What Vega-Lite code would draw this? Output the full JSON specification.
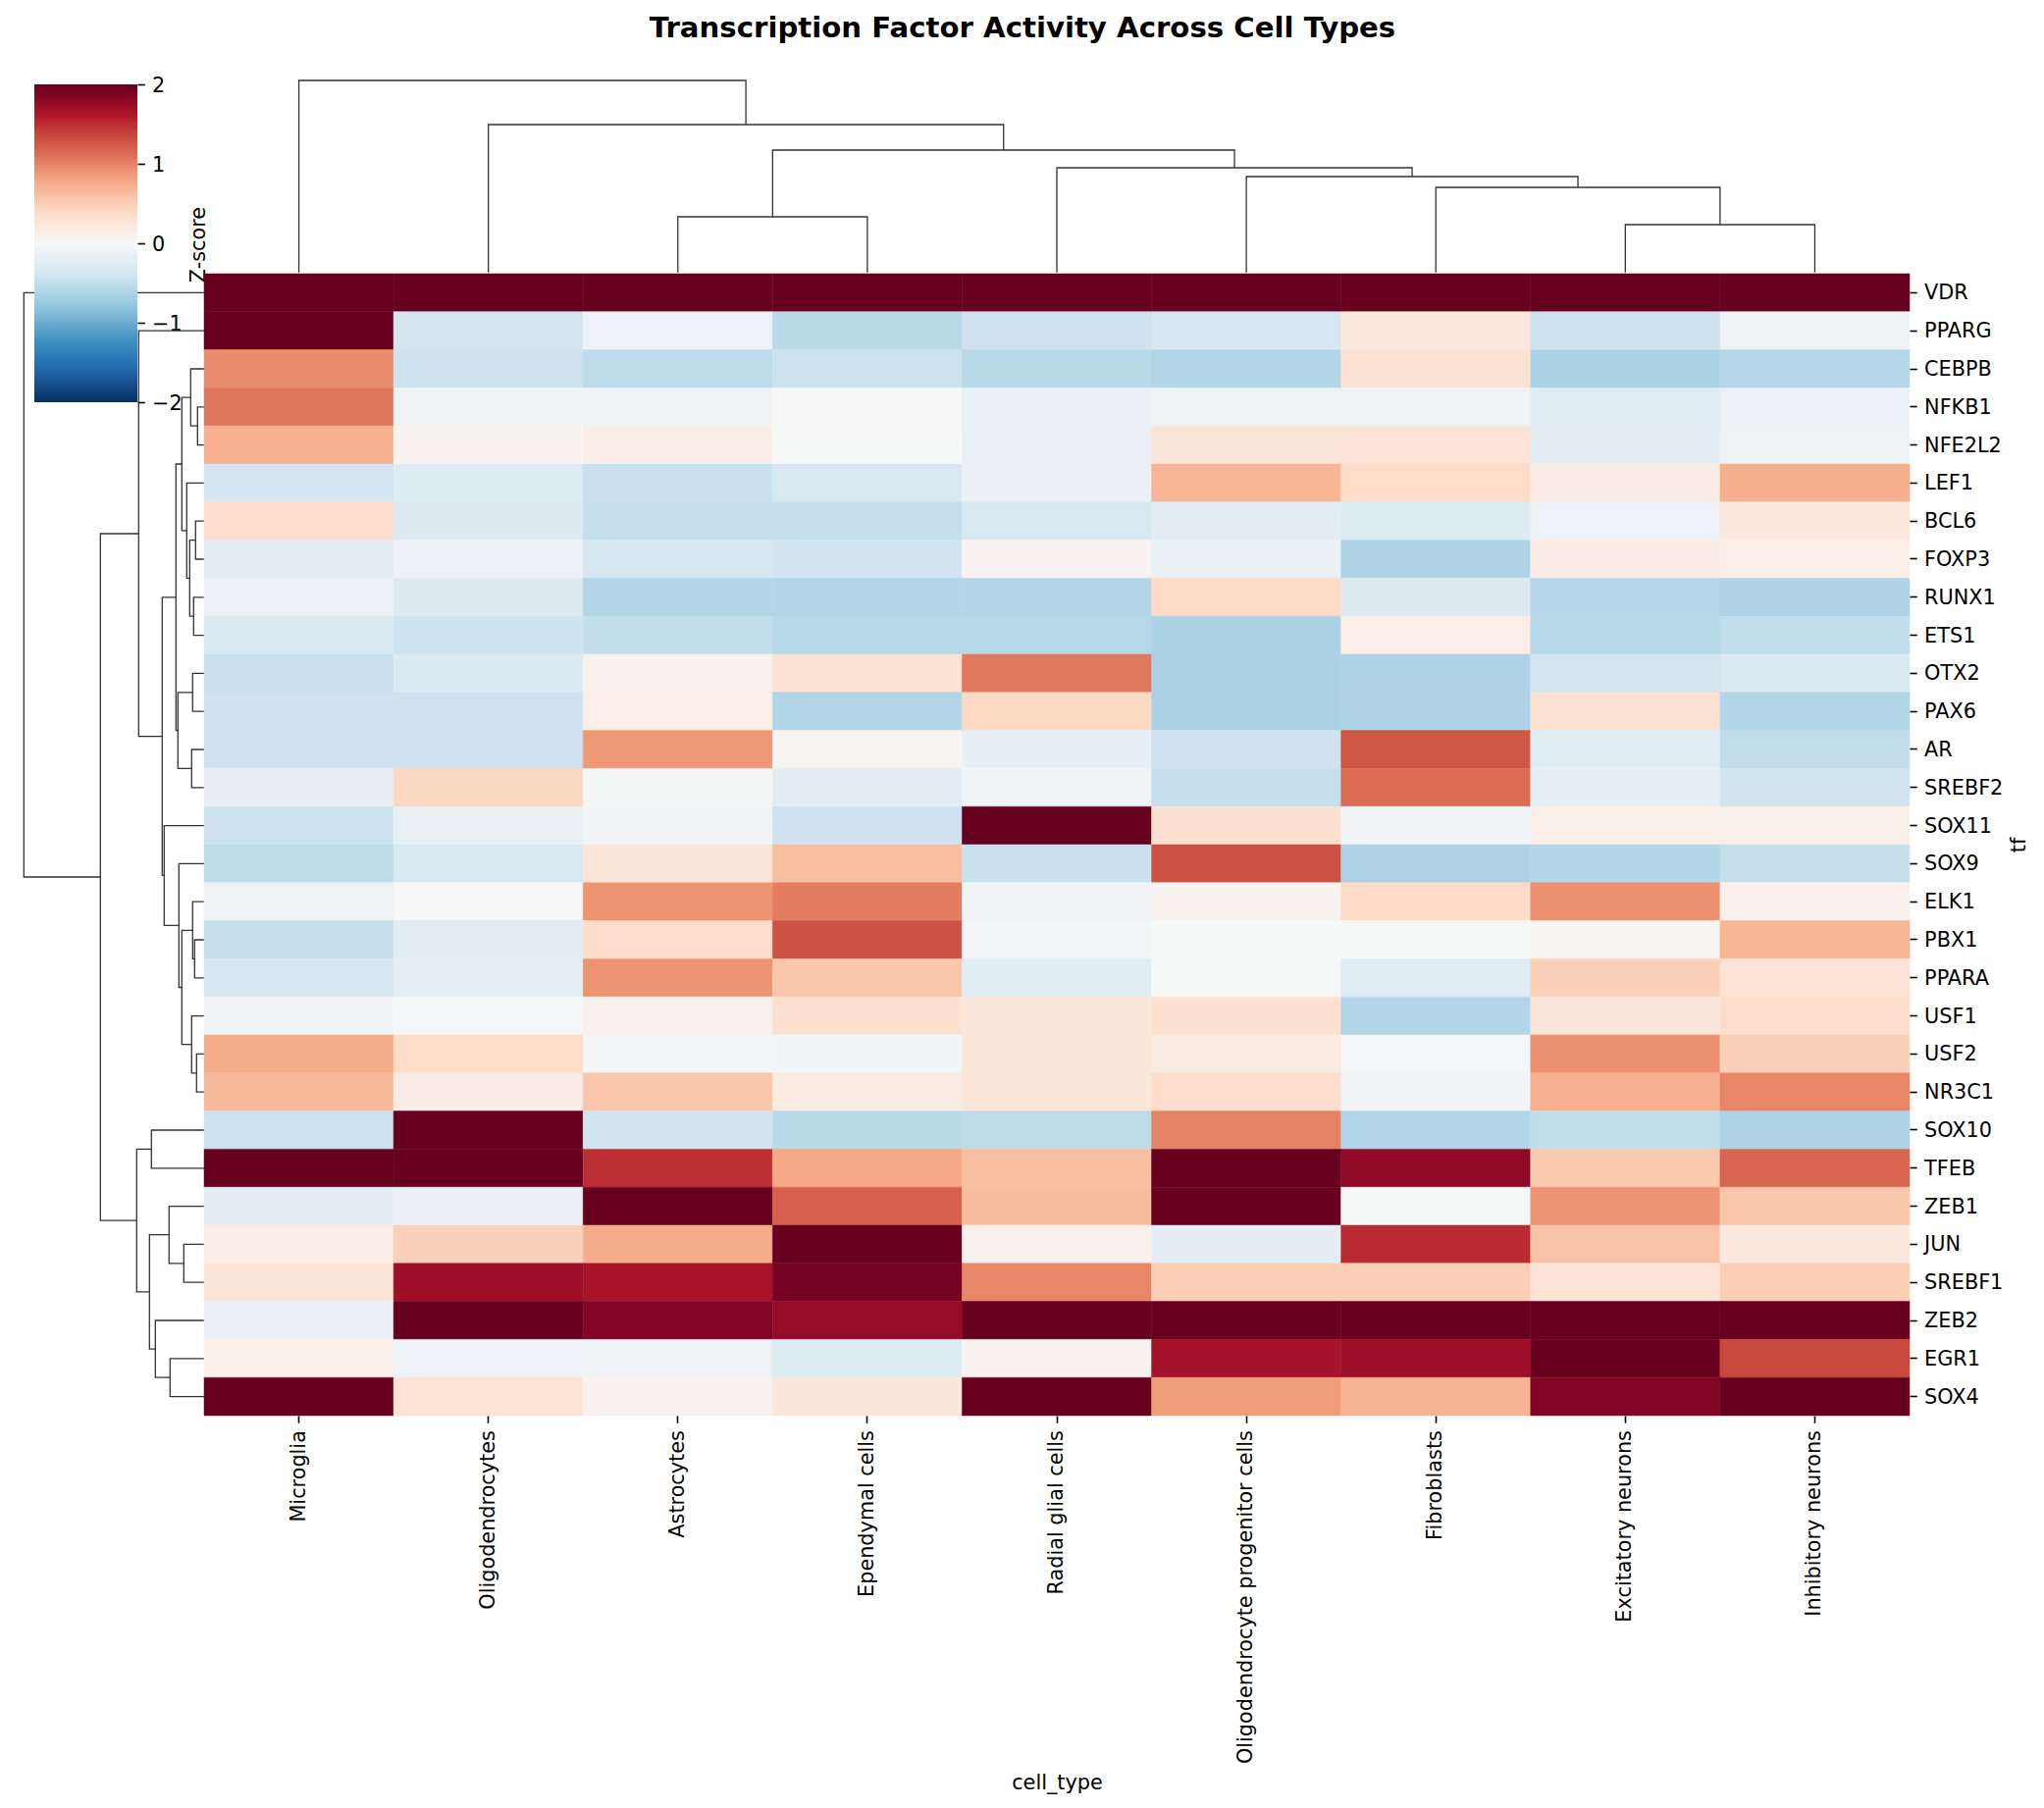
{
  "$schema": "https://vega.github.io/schema/vega-lite/v6.json",
  "autosize": {"type": "none"},
  "padding": {"left": 208, "top": 279, "right": 137, "bottom": 400},
  "width": 1738,
  "height": 1164,
  "background": "white",
  "title": {
    "text": "Transcription Factor Activity Across Cell Types",
    "anchor": "middle",
    "frame": "group",
    "dx": -35,
    "offset": 32,
    "font": "DejaVu Sans",
    "fontSize": 29.2,
    "fontWeight": "bold",
    "color": "black"
  },
  "config": {
    "view": {"stroke": null},
    "axis": {
      "labelFont": "DejaVu Sans",
      "titleFont": "DejaVu Sans",
      "labelFontSize": 20.8,
      "titleFontSize": 20.8,
      "titleFontWeight": "normal",
      "labelColor": "black",
      "titleColor": "black",
      "tickColor": "black",
      "tickWidth": 1.6,
      "tickSize": 7.3,
      "labelPadding": 7.3,
      "labelLimit": 0,
      "domain": false,
      "grid": false
    }
  },
  "datasets": {
    "col_tree": [
      {"link": "c1", "step": 1, "pos": 7.5, "height": 0}, {"link": "c1", "step": 2, "pos": 7.5, "height": 48.7}, {"link": "c1", "step": 3, "pos": 8.5, "height": 48.7}, {"link": "c1", "step": 4, "pos": 8.5, "height": 0},
      {"link": "c2", "step": 1, "pos": 6.5, "height": 0}, {"link": "c2", "step": 2, "pos": 6.5, "height": 86.7}, {"link": "c2", "step": 3, "pos": 8, "height": 86.7}, {"link": "c2", "step": 4, "pos": 8, "height": 48.7},
      {"link": "c3", "step": 1, "pos": 5.5, "height": 0}, {"link": "c3", "step": 2, "pos": 5.5, "height": 97.7}, {"link": "c3", "step": 3, "pos": 7.25, "height": 97.7}, {"link": "c3", "step": 4, "pos": 7.25, "height": 86.7},
      {"link": "c4", "step": 1, "pos": 4.5, "height": 0}, {"link": "c4", "step": 2, "pos": 4.5, "height": 106.7}, {"link": "c4", "step": 3, "pos": 6.375, "height": 106.7}, {"link": "c4", "step": 4, "pos": 6.375, "height": 97.7},
      {"link": "c5", "step": 1, "pos": 2.5, "height": 0}, {"link": "c5", "step": 2, "pos": 2.5, "height": 56.7}, {"link": "c5", "step": 3, "pos": 3.5, "height": 56.7}, {"link": "c5", "step": 4, "pos": 3.5, "height": 0},
      {"link": "c6", "step": 1, "pos": 3, "height": 56.7}, {"link": "c6", "step": 2, "pos": 3, "height": 124.7}, {"link": "c6", "step": 3, "pos": 5.4375, "height": 124.7}, {"link": "c6", "step": 4, "pos": 5.4375, "height": 106.7},
      {"link": "c7", "step": 1, "pos": 1.5, "height": 0}, {"link": "c7", "step": 2, "pos": 1.5, "height": 150.7}, {"link": "c7", "step": 3, "pos": 4.219, "height": 150.7}, {"link": "c7", "step": 4, "pos": 4.219, "height": 124.7},
      {"link": "c8", "step": 1, "pos": 0.5, "height": 0}, {"link": "c8", "step": 2, "pos": 0.5, "height": 195.7}, {"link": "c8", "step": 3, "pos": 2.859, "height": 195.7}, {"link": "c8", "step": 4, "pos": 2.859, "height": 150.7}
    ],
    "row_tree": [
      {"link": "R0", "step": 1, "pos": 0.5, "dist": 0}, {"link": "R0", "step": 2, "pos": 0.5, "dist": 183.7}, {"link": "R0", "step": 3, "pos": 15.85, "dist": 183.7}, {"link": "R0", "step": 4, "pos": 15.85, "dist": 105.7},
      {"link": "A", "step": 1, "pos": 6.83, "dist": 66.7}, {"link": "A", "step": 2, "pos": 6.83, "dist": 105.7}, {"link": "A", "step": 3, "pos": 24.875, "dist": 105.7}, {"link": "A", "step": 4, "pos": 24.875, "dist": 68.7},
      {"link": "B", "step": 1, "pos": 1.5, "dist": 0}, {"link": "B", "step": 2, "pos": 1.5, "dist": 66.7}, {"link": "B", "step": 3, "pos": 12.155, "dist": 66.7}, {"link": "B", "step": 4, "pos": 12.155, "dist": 42.7},
      {"link": "C", "step": 1, "pos": 8.5, "dist": 28.7}, {"link": "C", "step": 2, "pos": 8.5, "dist": 42.7}, {"link": "C", "step": 3, "pos": 15.81, "dist": 42.7}, {"link": "C", "step": 4, "pos": 15.81, "dist": 40.7},
      {"link": "D", "step": 1, "pos": 5, "dist": 22.7}, {"link": "D", "step": 2, "pos": 5, "dist": 28.7}, {"link": "D", "step": 3, "pos": 12, "dist": 28.7}, {"link": "D", "step": 4, "pos": 12, "dist": 26.7},
      {"link": "E", "step": 1, "pos": 3.25, "dist": 13.7}, {"link": "E", "step": 2, "pos": 3.25, "dist": 22.7}, {"link": "E", "step": 3, "pos": 6.75, "dist": 22.7}, {"link": "E", "step": 4, "pos": 6.75, "dist": 17.7},
      {"link": "F", "step": 1, "pos": 2.5, "dist": 0}, {"link": "F", "step": 2, "pos": 2.5, "dist": 13.7}, {"link": "F", "step": 3, "pos": 4, "dist": 13.7}, {"link": "F", "step": 4, "pos": 4, "dist": 6.7},
      {"link": "G", "step": 1, "pos": 3.5, "dist": 0}, {"link": "G", "step": 2, "pos": 3.5, "dist": 6.7}, {"link": "G", "step": 3, "pos": 4.5, "dist": 6.7}, {"link": "G", "step": 4, "pos": 4.5, "dist": 0},
      {"link": "H", "step": 1, "pos": 5.5, "dist": 0}, {"link": "H", "step": 2, "pos": 5.5, "dist": 17.7}, {"link": "H", "step": 3, "pos": 8, "dist": 17.7}, {"link": "H", "step": 4, "pos": 8, "dist": 14.7},
      {"link": "I", "step": 1, "pos": 7, "dist": 8.7}, {"link": "I", "step": 2, "pos": 7, "dist": 14.7}, {"link": "I", "step": 3, "pos": 9, "dist": 14.7}, {"link": "I", "step": 4, "pos": 9, "dist": 10.7},
      {"link": "J", "step": 1, "pos": 6.5, "dist": 0}, {"link": "J", "step": 2, "pos": 6.5, "dist": 8.7}, {"link": "J", "step": 3, "pos": 7.5, "dist": 8.7}, {"link": "J", "step": 4, "pos": 7.5, "dist": 0},
      {"link": "K", "step": 1, "pos": 8.5, "dist": 0}, {"link": "K", "step": 2, "pos": 8.5, "dist": 10.7}, {"link": "K", "step": 3, "pos": 9.5, "dist": 10.7}, {"link": "K", "step": 4, "pos": 9.5, "dist": 0},
      {"link": "L", "step": 1, "pos": 11, "dist": 11.7}, {"link": "L", "step": 2, "pos": 11, "dist": 26.7}, {"link": "L", "step": 3, "pos": 13, "dist": 26.7}, {"link": "L", "step": 4, "pos": 13, "dist": 12.7},
      {"link": "M", "step": 1, "pos": 10.5, "dist": 0}, {"link": "M", "step": 2, "pos": 10.5, "dist": 11.7}, {"link": "M", "step": 3, "pos": 11.5, "dist": 11.7}, {"link": "M", "step": 4, "pos": 11.5, "dist": 0},
      {"link": "N", "step": 1, "pos": 12.5, "dist": 0}, {"link": "N", "step": 2, "pos": 12.5, "dist": 12.7}, {"link": "N", "step": 3, "pos": 13.5, "dist": 12.7}, {"link": "N", "step": 4, "pos": 13.5, "dist": 0},
      {"link": "O", "step": 1, "pos": 14.5, "dist": 0}, {"link": "O", "step": 2, "pos": 14.5, "dist": 40.7}, {"link": "O", "step": 3, "pos": 17.125, "dist": 40.7}, {"link": "O", "step": 4, "pos": 17.125, "dist": 25.7},
      {"link": "P", "step": 1, "pos": 15.5, "dist": 0}, {"link": "P", "step": 2, "pos": 15.5, "dist": 25.7}, {"link": "P", "step": 3, "pos": 18.75, "dist": 25.7}, {"link": "P", "step": 4, "pos": 18.75, "dist": 22.7},
      {"link": "Q", "step": 1, "pos": 17.25, "dist": 11.7}, {"link": "Q", "step": 2, "pos": 17.25, "dist": 22.7}, {"link": "Q", "step": 3, "pos": 20.25, "dist": 22.7}, {"link": "Q", "step": 4, "pos": 20.25, "dist": 12.7},
      {"link": "R", "step": 1, "pos": 16.5, "dist": 0}, {"link": "R", "step": 2, "pos": 16.5, "dist": 11.7}, {"link": "R", "step": 3, "pos": 18, "dist": 11.7}, {"link": "R", "step": 4, "pos": 18, "dist": 9.7},
      {"link": "S", "step": 1, "pos": 17.5, "dist": 0}, {"link": "S", "step": 2, "pos": 17.5, "dist": 9.7}, {"link": "S", "step": 3, "pos": 18.5, "dist": 9.7}, {"link": "S", "step": 4, "pos": 18.5, "dist": 0},
      {"link": "T", "step": 1, "pos": 19.5, "dist": 0}, {"link": "T", "step": 2, "pos": 19.5, "dist": 12.7}, {"link": "T", "step": 3, "pos": 21, "dist": 12.7}, {"link": "T", "step": 4, "pos": 21, "dist": 7.7},
      {"link": "U", "step": 1, "pos": 20.5, "dist": 0}, {"link": "U", "step": 2, "pos": 20.5, "dist": 7.7}, {"link": "U", "step": 3, "pos": 21.5, "dist": 7.7}, {"link": "U", "step": 4, "pos": 21.5, "dist": 0},
      {"link": "V", "step": 1, "pos": 23, "dist": 53.7}, {"link": "V", "step": 2, "pos": 23, "dist": 68.7}, {"link": "V", "step": 3, "pos": 26.75, "dist": 68.7}, {"link": "V", "step": 4, "pos": 26.75, "dist": 55.7},
      {"link": "W", "step": 1, "pos": 22.5, "dist": 0}, {"link": "W", "step": 2, "pos": 22.5, "dist": 53.7}, {"link": "W", "step": 3, "pos": 23.5, "dist": 53.7}, {"link": "W", "step": 4, "pos": 23.5, "dist": 0},
      {"link": "X", "step": 1, "pos": 25.25, "dist": 35.7}, {"link": "X", "step": 2, "pos": 25.25, "dist": 55.7}, {"link": "X", "step": 3, "pos": 28.25, "dist": 55.7}, {"link": "X", "step": 4, "pos": 28.25, "dist": 49.7},
      {"link": "Y", "step": 1, "pos": 24.5, "dist": 0}, {"link": "Y", "step": 2, "pos": 24.5, "dist": 35.7}, {"link": "Y", "step": 3, "pos": 26, "dist": 35.7}, {"link": "Y", "step": 4, "pos": 26, "dist": 20.7},
      {"link": "Z", "step": 1, "pos": 25.5, "dist": 0}, {"link": "Z", "step": 2, "pos": 25.5, "dist": 20.7}, {"link": "Z", "step": 3, "pos": 26.5, "dist": 20.7}, {"link": "Z", "step": 4, "pos": 26.5, "dist": 0},
      {"link": "AA", "step": 1, "pos": 27.5, "dist": 0}, {"link": "AA", "step": 2, "pos": 27.5, "dist": 49.7}, {"link": "AA", "step": 3, "pos": 29, "dist": 49.7}, {"link": "AA", "step": 4, "pos": 29, "dist": 34.7},
      {"link": "AB", "step": 1, "pos": 28.5, "dist": 0}, {"link": "AB", "step": 2, "pos": 28.5, "dist": 34.7}, {"link": "AB", "step": 3, "pos": 29.5, "dist": 34.7}, {"link": "AB", "step": 4, "pos": 29.5, "dist": 0}
    ],
    "activity": [
      {"tf":"VDR","Microglia":2,"Oligodendrocytes":2,"Astrocytes":2,"Ependymal cells":2,"Radial glial cells":2,"Oligodendrocyte progenitor cells":2,"Fibroblasts":2,"Excitatory neurons":2,"Inhibitory neurons":2},
      {"tf":"PPARG","Microglia":2,"Oligodendrocytes":-0.38,"Astrocytes":-0.12,"Ependymal cells":-0.55,"Radial glial cells":-0.42,"Oligodendrocyte progenitor cells":-0.35,"Fibroblasts":0.2,"Excitatory neurons":-0.43,"Inhibitory neurons":-0.08},
      {"tf":"CEBPB","Microglia":0.95,"Oligodendrocytes":-0.42,"Astrocytes":-0.53,"Ependymal cells":-0.43,"Radial glial cells":-0.55,"Oligodendrocyte progenitor cells":-0.6,"Fibroblasts":0.3,"Excitatory neurons":-0.64,"Inhibitory neurons":-0.59},
      {"tf":"NFKB1","Microglia":1.07,"Oligodendrocytes":-0.08,"Astrocytes":-0.06,"Ependymal cells":0,"Radial glial cells":-0.14,"Oligodendrocyte progenitor cells":-0.1,"Fibroblasts":-0.08,"Excitatory neurons":-0.25,"Inhibitory neurons":-0.13},
      {"tf":"NFE2L2","Microglia":0.72,"Oligodendrocytes":0.06,"Astrocytes":0.14,"Ependymal cells":-0.01,"Radial glial cells":-0.15,"Oligodendrocyte progenitor cells":0.25,"Fibroblasts":0.28,"Excitatory neurons":-0.22,"Inhibitory neurons":-0.1},
      {"tf":"LEF1","Microglia":-0.37,"Oligodendrocytes":-0.27,"Astrocytes":-0.45,"Ependymal cells":-0.33,"Radial glial cells":-0.14,"Oligodendrocyte progenitor cells":0.68,"Fibroblasts":0.38,"Excitatory neurons":0.15,"Inhibitory neurons":0.73},
      {"tf":"BCL6","Microglia":0.35,"Oligodendrocytes":-0.28,"Astrocytes":-0.47,"Ependymal cells":-0.48,"Radial glial cells":-0.33,"Oligodendrocyte progenitor cells":-0.22,"Fibroblasts":-0.27,"Excitatory neurons":-0.12,"Inhibitory neurons":0.2},
      {"tf":"FOXP3","Microglia":-0.23,"Oligodendrocytes":-0.13,"Astrocytes":-0.35,"Ependymal cells":-0.4,"Radial glial cells":0.06,"Oligodendrocyte progenitor cells":-0.14,"Fibroblasts":-0.62,"Excitatory neurons":0.15,"Inhibitory neurons":0.13},
      {"tf":"RUNX1","Microglia":-0.13,"Oligodendrocytes":-0.28,"Astrocytes":-0.6,"Ependymal cells":-0.6,"Radial glial cells":-0.6,"Oligodendrocyte progenitor cells":0.4,"Fibroblasts":-0.28,"Excitatory neurons":-0.59,"Inhibitory neurons":-0.62},
      {"tf":"ETS1","Microglia":-0.3,"Oligodendrocytes":-0.42,"Astrocytes":-0.5,"Ependymal cells":-0.58,"Radial glial cells":-0.58,"Oligodendrocyte progenitor cells":-0.64,"Fibroblasts":0.13,"Excitatory neurons":-0.58,"Inhibitory neurons":-0.5},
      {"tf":"OTX2","Microglia":-0.45,"Oligodendrocytes":-0.3,"Astrocytes":0.08,"Ependymal cells":0.3,"Radial glial cells":1.06,"Oligodendrocyte progenitor cells":-0.64,"Fibroblasts":-0.62,"Excitatory neurons":-0.38,"Inhibitory neurons":-0.3},
      {"tf":"PAX6","Microglia":-0.42,"Oligodendrocytes":-0.42,"Astrocytes":0.13,"Ependymal cells":-0.6,"Radial glial cells":0.42,"Oligodendrocyte progenitor cells":-0.64,"Fibroblasts":-0.62,"Excitatory neurons":0.3,"Inhibitory neurons":-0.6},
      {"tf":"AR","Microglia":-0.42,"Oligodendrocytes":-0.42,"Astrocytes":0.88,"Ependymal cells":0.04,"Radial glial cells":-0.18,"Oligodendrocyte progenitor cells":-0.42,"Fibroblasts":1.27,"Excitatory neurons":-0.25,"Inhibitory neurons":-0.5},
      {"tf":"SREBF2","Microglia":-0.17,"Oligodendrocytes":0.43,"Astrocytes":-0.03,"Ependymal cells":-0.22,"Radial glial cells":-0.07,"Oligodendrocyte progenitor cells":-0.48,"Fibroblasts":1.13,"Excitatory neurons":-0.18,"Inhibitory neurons":-0.4},
      {"tf":"SOX11","Microglia":-0.42,"Oligodendrocytes":-0.15,"Astrocytes":-0.07,"Ependymal cells":-0.42,"Radial glial cells":2,"Oligodendrocyte progenitor cells":0.33,"Fibroblasts":-0.06,"Excitatory neurons":0.12,"Inhibitory neurons":0.12},
      {"tf":"SOX9","Microglia":-0.52,"Oligodendrocytes":-0.33,"Astrocytes":0.27,"Ependymal cells":0.62,"Radial glial cells":-0.45,"Oligodendrocyte progenitor cells":1.3,"Fibroblasts":-0.62,"Excitatory neurons":-0.6,"Inhibitory neurons":-0.48},
      {"tf":"ELK1","Microglia":-0.09,"Oligodendrocytes":0,"Astrocytes":0.9,"Ependymal cells":1.03,"Radial glial cells":-0.06,"Oligodendrocyte progenitor cells":0.07,"Fibroblasts":0.4,"Excitatory neurons":0.92,"Inhibitory neurons":0.1},
      {"tf":"PBX1","Microglia":-0.47,"Oligodendrocytes":-0.23,"Astrocytes":0.37,"Ependymal cells":1.3,"Radial glial cells":-0.04,"Oligodendrocyte progenitor cells":-0.01,"Fibroblasts":-0.01,"Excitatory neurons":0.04,"Inhibitory neurons":0.68},
      {"tf":"PPARA","Microglia":-0.35,"Oligodendrocytes":-0.18,"Astrocytes":0.9,"Ependymal cells":0.55,"Radial glial cells":-0.24,"Oligodendrocyte progenitor cells":-0.01,"Fibroblasts":-0.25,"Excitatory neurons":0.48,"Inhibitory neurons":0.28},
      {"tf":"USF1","Microglia":-0.07,"Oligodendrocytes":-0.02,"Astrocytes":0.09,"Ependymal cells":0.32,"Radial glial cells":0.24,"Oligodendrocyte progenitor cells":0.32,"Fibroblasts":-0.6,"Excitatory neurons":0.25,"Inhibitory neurons":0.35},
      {"tf":"USF2","Microglia":0.75,"Oligodendrocytes":0.38,"Astrocytes":-0.04,"Ependymal cells":-0.05,"Radial glial cells":0.24,"Oligodendrocyte progenitor cells":0.17,"Fibroblasts":-0.02,"Excitatory neurons":0.92,"Inhibitory neurons":0.48},
      {"tf":"NR3C1","Microglia":0.65,"Oligodendrocytes":0.15,"Astrocytes":0.55,"Ependymal cells":0.17,"Radial glial cells":0.24,"Oligodendrocyte progenitor cells":0.37,"Fibroblasts":-0.06,"Excitatory neurons":0.72,"Inhibitory neurons":0.98},
      {"tf":"SOX10","Microglia":-0.43,"Oligodendrocytes":2,"Astrocytes":-0.4,"Ependymal cells":-0.55,"Radial glial cells":-0.52,"Oligodendrocyte progenitor cells":1.0,"Fibroblasts":-0.6,"Excitatory neurons":-0.5,"Inhibitory neurons":-0.62},
      {"tf":"TFEB","Microglia":2,"Oligodendrocytes":2,"Astrocytes":1.5,"Ependymal cells":0.78,"Radial glial cells":0.62,"Oligodendrocyte progenitor cells":2,"Fibroblasts":1.78,"Excitatory neurons":0.53,"Inhibitory neurons":1.17},
      {"tf":"ZEB1","Microglia":-0.22,"Oligodendrocytes":-0.15,"Astrocytes":2,"Ependymal cells":1.2,"Radial glial cells":0.63,"Oligodendrocyte progenitor cells":2,"Fibroblasts":-0.01,"Excitatory neurons":0.9,"Inhibitory neurons":0.55},
      {"tf":"JUN","Microglia":0.14,"Oligodendrocytes":0.48,"Astrocytes":0.75,"Ependymal cells":2,"Radial glial cells":0.08,"Oligodendrocyte progenitor cells":-0.2,"Fibroblasts":1.52,"Excitatory neurons":0.58,"Inhibitory neurons":0.2},
      {"tf":"SREBF1","Microglia":0.25,"Oligodendrocytes":1.7,"Astrocytes":1.65,"Ependymal cells":1.92,"Radial glial cells":0.98,"Oligodendrocyte progenitor cells":0.5,"Fibroblasts":0.5,"Excitatory neurons":0.28,"Inhibitory neurons":0.5},
      {"tf":"ZEB2","Microglia":-0.15,"Oligodendrocytes":2,"Astrocytes":1.85,"Ependymal cells":1.75,"Radial glial cells":2,"Oligodendrocyte progenitor cells":2,"Fibroblasts":2,"Excitatory neurons":2,"Inhibitory neurons":2},
      {"tf":"EGR1","Microglia":0.12,"Oligodendrocytes":-0.12,"Astrocytes":-0.1,"Ependymal cells":-0.27,"Radial glial cells":0.06,"Oligodendrocyte progenitor cells":1.67,"Fibroblasts":1.7,"Excitatory neurons":2,"Inhibitory neurons":1.35},
      {"tf":"SOX4","Microglia":2,"Oligodendrocytes":0.29,"Astrocytes":0.05,"Ependymal cells":0.23,"Radial glial cells":2,"Oligodendrocyte progenitor cells":0.85,"Fibroblasts":0.7,"Excitatory neurons":1.85,"Inhibitory neurons":2}
    ],
    "cbar_ticks": [{"z": -2}, {"z": -1}, {"z": 0}, {"z": 1}, {"z": 2}]
  },
  "layer": [
    {
      "data": {"name": "col_tree"},
      "mark": {"type": "line", "color": "#333333", "strokeWidth": 1.3},
      "encoding": {
        "x": {"field": "pos", "type": "quantitative", "axis": null, "scale": {"domain": [0, 9], "range": [0, 1738], "zero": false, "nice": false}},
        "y": {"field": "height", "type": "quantitative", "axis": null, "scale": {"domain": [0, 196], "range": [-1.3, -197.3], "zero": false, "nice": false}},
        "detail": {"field": "link"},
        "order": {"field": "step"}
      }
    },
    {
      "data": {"name": "row_tree"},
      "mark": {"type": "line", "color": "#333333", "strokeWidth": 1.3},
      "encoding": {
        "x": {"field": "dist", "type": "quantitative", "axis": null, "scale": {"domain": [0, 184], "range": [0, -184], "zero": false, "nice": false}},
        "y": {"field": "pos", "type": "quantitative", "axis": null, "scale": {"domain": [0, 30], "range": [0, 1164], "zero": false, "nice": false}},
        "detail": {"field": "link"},
        "order": {"field": "step"}
      }
    },
    {
      "data": {"name": "activity"},
      "transform": [
        {"fold": ["Microglia", "Oligodendrocytes", "Astrocytes", "Ependymal cells", "Radial glial cells", "Oligodendrocyte progenitor cells", "Fibroblasts", "Excitatory neurons", "Inhibitory neurons"], "as": ["cell_type", "z"]}
      ],
      "mark": {"type": "rect", "strokeWidth": 0.5, "stroke": {"expr": "scale('color', datum.z)"}},
      "encoding": {
        "x": {
          "field": "cell_type", "type": "nominal", "sort": null,
          "scale": {"domain": ["Microglia", "Oligodendrocytes", "Astrocytes", "Ependymal cells", "Radial glial cells", "Oligodendrocyte progenitor cells", "Fibroblasts", "Excitatory neurons", "Inhibitory neurons"]},
          "axis": {"title": "cell_type", "labelAngle": -90, "labelAlign": "right", "labelBaseline": "middle", "titleY": 374, "titleBaseline": "middle"}
        },
        "y": {
          "field": "tf", "type": "nominal", "sort": null,
          "axis": {"title": "tf", "orient": "right", "labelOffset": 1, "titleAngle": 270, "titleX": 111, "titleBaseline": "middle"}
        },
        "color": {
          "field": "z", "type": "quantitative",
          "scale": {
            "domain": [-2, -1.6, -1.2, -0.8, -0.4, 0, 0.4, 0.8, 1.2, 1.6, 2],
            "range": ["#053061", "#2166ac", "#4393c3", "#92c5de", "#d1e5f0", "#f7f7f7", "#fddbc7", "#f4a582", "#d6604d", "#b2182b", "#67001f"],
            "clamp": true
          },
          "legend": {
            "orient": "none", "legendX": -173, "legendY": -193, "title": null, "direction": "vertical",
            "gradientLength": 324, "gradientThickness": 105, "gradientStrokeWidth": 0,
            "labelExpr": "''", "labelOpacity": 0, "padding": 0, "zindex": 1
          }
        }
      }
    },
    {
      "data": {"name": "cbar_ticks"},
      "mark": {"type": "point", "opacity": 0},
      "encoding": {
        "y": {
          "field": "z", "type": "quantitative",
          "scale": {"domain": [-2, 2], "range": [131, -193], "zero": false, "nice": false},
          "axis": {"orient": "right", "offset": -1806, "values": [-2, -1, 0, 1, 2], "format": "d", "labelOffset": 1, "title": "Z-score", "titleAngle": 270, "titleX": 62, "titleY": -30, "titleBaseline": "middle"}
        }
      }
    }
  ],
  "resolve": {
    "scale": {"x": "independent", "y": "independent"},
    "axis": {"x": "independent", "y": "independent"}
  }
}
